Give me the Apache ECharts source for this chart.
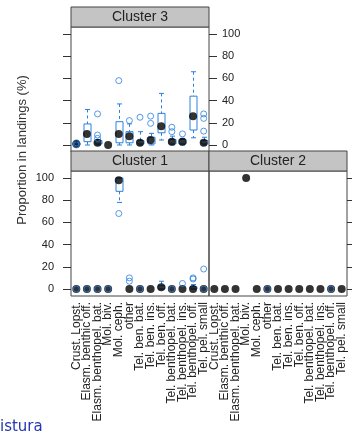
<!DOCTYPE html>
<html>
<head>
<meta charset="UTF-8">
<script src="https://cdn.jsdelivr.net/npm/echarts@6/dist/echarts.min.js"></script>
<style>
body{margin:0;background:#fff;}
#chart{width:352px;height:434px;}
</style>
</head>
<body>
<div id="chart"></div>
<script>

const categories = ["Crust. Lopst.","Elasm. benthic off.","Elasm. benthopel. bat.","Mol. biv.","Mol. ceph.","other","Tel. ben. bat.","Tel. ben. ins.","Tel. ben. off.","Tel. benthopel. bat.","Tel. benthopel. ins.","Tel. benthopel. off.","Tel. pel. small"]

const yTicks = [0,20,40,60,80,100]

// [min, q1, median, q3, max] per category
const c3Stats = [
 [0,0,1,2,4],
 [0,3,10,19,32],
 [0,1,2,4,5],
 [0,0,0,0,0],
 [0,2,10,21,37],
 [0,2,8,12,19],
 [0,1,2,4,12],
 [0,1,4.5,7,10.5],
 [4.5,11,17,28.5,46.5],
 [0,1,3,5,8],
 [0,1,3,5,6],
 [6.5,13.5,26,44,66],
 [0,1,2,4,7]
]
const c3Out = [[0,0],[0,2],[2,28],[2,9],[2,6],[4,58],[5,22],[6,25],[7,26],[7,19.5],[9,16],[9,12],[10,10],[12,28],[12,24],[12,12.5]]

const c1Stats = [
 [0,0,0,0,0],[0,0,0,0,0],[0,0,0,0,0],[0,0,0,0,0],
 [78,88,98,100,100],
 [0,0,0,0,0],[0,0,0,0,0],[0,0,0,0,0],
 [0,0,1.5,3,7],
 [0,0,0,0,0],[0,0,0,0,0],
 [0,0,0,2,4],
 [0,0,0,0,0]
]
const c1Out = [[0,0],[1,0],[2,0],[3,0],[4,68],[5,10],[5,7],[6,0],[9,0],[10,5],[11,9],[11,10],[12,18],[12,0]]

const c2Stats = [
 [0,0,0,0,0],[0,0,0,0,0],[0,0,0,0,0],
 [100,100,100,100,100],
 [0,0,0,0,0],[0,0,0,0,0],[0,0,0,0,0],[0,0,0,0,0],
 [0,0,0,0,0],[0,0,0,0,0],[0,0,0,0,0],[0,0,0,0,0],[0,0,0,0,0]
]
const c2Out = [[5,0],[11,0]]

const BLUE = "#2a80e0"
const FONT = "Liberation Sans"

const panels = [
 {name:"Cluster 3", left:71, top:27, stats:c3Stats, out:c3Out},
 {name:"Cluster 1", left:71, top:171, stats:c1Stats, out:c1Out},
 {name:"Cluster 2", left:209, top:171, stats:c2Stats, out:c2Out}
]

const PW = 138, PH = 125, SH = 20

function boxItem(params, api){
 const cat = api.value(0)
 const lo = api.coord([cat, api.value(1)])
 const q1 = api.coord([cat, api.value(2)])
 const q3 = api.coord([cat, api.value(4)])
 const hi = api.coord([cat, api.value(5)])
 if(api.value(5) === api.value(1)) return {type:"group", children:[]}
 const x = Math.round(lo[0]) + 0.5
 const w = 7, cw = 5
 const dash = {stroke:BLUE, lineWidth:1, lineDash:[3,3]}
 const solid = {stroke:BLUE, lineWidth:1}
 return {
  type:"group",
  children:[
   {type:"line", shape:{x1:x,y1:hi[1],x2:x,y2:q3[1]}, style:dash},
   {type:"line", shape:{x1:x,y1:q1[1],x2:x,y2:lo[1]}, style:dash},
   {type:"line", shape:{x1:x-cw/2,y1:hi[1],x2:x+cw/2,y2:hi[1]}, style:solid},
   {type:"line", shape:{x1:x-cw/2,y1:lo[1],x2:x+cw/2,y2:lo[1]}, style:solid},
   {type:"rect", shape:{x:x-w/2,y:q3[1],width:w,height:q1[1]-q3[1]}, style:{fill:"none",stroke:BLUE,lineWidth:1}}
  ]
 }
}

const grid = panels.map(p=>({
 left:p.left, top:p.top, width:PW, height:PH,
 show:true, borderColor:"#444", borderWidth:1, backgroundColor:"transparent"
}))

const xAxis = panels.map((p,i)=>({
 type:"category", gridIndex:i, data:categories, boundaryGap:true,
 axisLine:{show:false}, axisTick:{show:false}, splitLine:{show:false},
 axisLabel:{
  show:i>0, rotate:90, interval:0, margin:6,
  fontFamily:FONT, fontSize:12, color:"#222"
 }
}))

function yAx(gi, pos, labels){
 return {
  type:"value", gridIndex:gi, position:pos, min:-6.3, max:106.3,
  axisLine:{show:false}, splitLine:{show:false},
  axisTick:{show:true, length:8, customValues:yTicks, lineStyle:{color:"#333"}},
  axisLabel:{show:labels, customValues:yTicks, margin:pos==="left"?17:13,
   fontFamily:FONT, fontSize:11, color:"#222"}
 }
}

const yAxis = [
 yAx(0,"left",false),
 yAx(0,"right",true),
 yAx(1,"left",true),
 yAx(2,"right",false)
]
const yIndex = [0,2,3]

const series = []
panels.forEach((p,i)=>{
 series.push({
  type:"custom", xAxisIndex:i, yAxisIndex:yIndex[i],
  renderItem:boxItem, encode:{x:0, y:[1,2,4,5]},
  data:p.stats.map((s,k)=>[k].concat(s)), z:2
 })
 series.push({
  type:"scatter", xAxisIndex:i, yAxisIndex:yIndex[i],
  symbol:"circle", symbolSize:8, itemStyle:{color:"#000"},
  data:p.stats.map((s,k)=>[k,s[2]]), z:3
 })
 series.push({
  type:"scatter", xAxisIndex:i, yAxisIndex:yIndex[i],
  symbol:"circle", symbolSize:6,
  itemStyle:{color:"rgba(0,0,0,0)", borderColor:BLUE, borderWidth:1},
  data:p.out, z:4
 })
})

const graphic = []
panels.forEach(p=>{
 graphic.push({
  type:"rect", shape:{x:p.left, y:p.top-SH, width:PW, height:SH},
  style:{fill:"#c4c4c4", stroke:"#444", lineWidth:1}
 })
 graphic.push({
  type:"text", x:p.left+PW/2, y:p.top-SH/2,
  style:{text:p.name, fontFamily:FONT, fontSize:14, fill:"#222", align:"center", verticalAlign:"middle"}
 })
})
graphic.push({
 type:"text", x:22, y:150, rotation:Math.PI/2,
 style:{text:"Proportion in landings (%)", fontFamily:FONT, fontSize:13, fill:"#333", align:"center", verticalAlign:"middle"}
})
graphic.push({
 type:"text", x:0, y:427,
 style:{text:"istura", fontFamily:"DejaVu Sans", fontSize:15, fill:"#2436b0", align:"left", verticalAlign:"middle"}
})

const chart = echarts.init(document.getElementById("chart"), null, {renderer:"canvas"})

chart.setOption({
 animation:false,
 backgroundColor:"#fff",
 grid:grid,
 xAxis:xAxis,
 yAxis:yAxis,
 series:series,
 graphic:graphic
})

</script>
</body>
</html>
